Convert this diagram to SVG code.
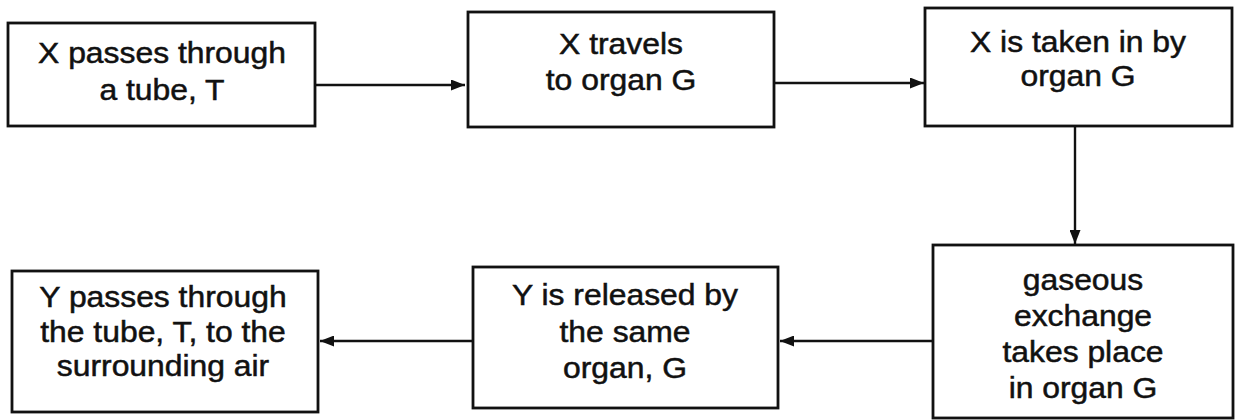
<svg xmlns="http://www.w3.org/2000/svg" width="1242" height="420" viewBox="0 0 1242 420">
<style>
.box{fill:#fff;stroke:#111;stroke-width:2.8}
.lbl{font-family:"Liberation Sans",Arial,sans-serif;font-size:29.5px;fill:#111;stroke:#111;stroke-width:0.5;text-anchor:middle}
.con{stroke:#111;stroke-width:2.4;fill:none;marker-end:url(#ah)}
</style>
<defs>
<marker id="ah" viewBox="0 0 14 11" refX="14" refY="5.5" markerWidth="14" markerHeight="11" markerUnits="userSpaceOnUse" orient="auto">
<path d="M0,0 L14,5.5 L0,11 Z" fill="#111"/>
</marker>
</defs>
<rect width="1242" height="420" fill="#fff"/>
<g id="n1"><rect class="box" x="8" y="23" width="307" height="103"/>
<g transform="translate(162 0) scale(1.08 1)"><text class="lbl" x="0" y="63">X passes through</text><text class="lbl" x="0" y="100">a tube, T</text></g></g>
<g id="n2"><rect class="box" x="468" y="12" width="306" height="115"/>
<g transform="translate(621 0) scale(1.08 1)"><text class="lbl" x="0" y="54">X travels</text><text class="lbl" x="0" y="90">to organ G</text></g></g>
<g id="n3"><rect class="box" x="925" y="8" width="307" height="118"/>
<g transform="translate(1078 0) scale(1.08 1)"><text class="lbl" x="0" y="52">X is taken in by</text><text class="lbl" x="0" y="86">organ G</text></g></g>
<g id="n4"><rect class="box" x="933" y="245" width="300" height="173"/>
<g transform="translate(1083 0) scale(1.08 1)"><text class="lbl" x="0" y="290">gaseous</text><text class="lbl" x="0" y="326">exchange</text><text class="lbl" x="0" y="362">takes place</text><text class="lbl" x="0" y="398">in organ G</text></g></g>
<g id="n5"><rect class="box" x="473" y="267" width="305" height="141"/>
<g transform="translate(625 0) scale(1.08 1)"><text class="lbl" x="0" y="305">Y is released by</text><text class="lbl" x="0" y="342">the same</text><text class="lbl" x="0" y="378">organ, G</text></g></g>
<g id="n6"><rect class="box" x="12" y="271" width="306" height="141"/>
<g transform="translate(163 0) scale(1.08 1)"><text class="lbl" x="0" y="307">Y passes through</text><text class="lbl" x="0" y="342">the tube, T, to the</text><text class="lbl" x="0" y="376">surrounding air</text></g></g>
<g id="connectors">
<line class="con" x1="315" y1="85" x2="465" y2="85"/>
<line class="con" x1="774" y1="83" x2="924" y2="83"/>
<line class="con" x1="1075" y1="126" x2="1075" y2="244"/>
<line class="con" x1="933" y1="341" x2="780" y2="341"/>
<line class="con" x1="473" y1="341" x2="320" y2="341"/>
</g>
</svg>
